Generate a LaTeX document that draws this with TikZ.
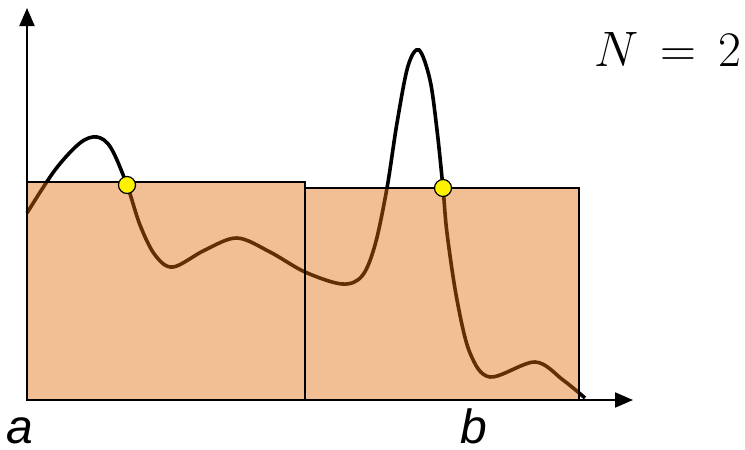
\documentclass[tikz,border=0pt]{standalone}
\usepackage{fontspec}
\setmainfont{Liberation Sans}
\usetikzlibrary{arrows.meta}
\definecolor{barfill}{RGB}{225,107,12}

\begin{document}
\begin{tikzpicture}[x=0.5pt, y=-0.5pt, font=\fontsize{24}{28}\selectfont,
  axis/.style={line width=1pt, -{Triangle[length=9pt,width=7.5pt]}},
  bar/.style={draw=black, line width=1pt, fill=barfill, fill opacity=0.44},
  dot/.style={circle, draw=black, line width=0.6pt, fill=yellow, inner sep=0pt, minimum size=8.5pt}]
\useasboundingbox (0,0) rectangle (745,450);
% function
\draw[line width=1.8pt] plot[smooth, tension=0.55] coordinates {
  (27,213) (55,170) (80,143) (97,137) (111,148) (127,185) (140,225) (155,255)
  (173,267) (205,250) (237,238) (270,252) (305,272) (342,284) (362,276) (375,245)
  (387,188) (397,123) (408,66) (419,50) (430,80) (437,130) (443,188) (447,233)
  (457,300) (470,353) (490,377) (535,362) (563,380) (585,398)};
% midpoint rectangles
\foreach \xa/\xb/\yt in {27/305/182, 305/579/188}
  \draw[bar] (\xa,400) rectangle (\xb,\yt);
% axes
\coordinate (O) at (27,400);
\coordinate (xend) at (633,400);
\coordinate (yend) at (27,8);
\draw[axis] (O) -- (xend);
\draw[axis] (O) -- (yend);
% midpoints
\node[dot] (m1) at (127,185) {};
\node[dot] (m2) at (443,188) {};
\node[anchor=base] (a) at (20,443) {\itshape a};
\node[anchor=base] (b) at (474,443) {\itshape b};
\node[anchor=base] (N) at (668,66) {$N\,=\,2$};
\end{tikzpicture}
\end{document}
